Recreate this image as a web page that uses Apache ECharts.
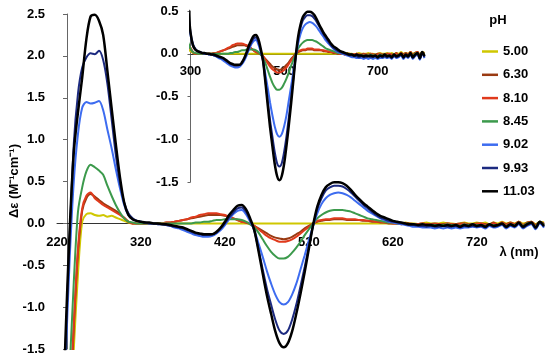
<!DOCTYPE html>
<html><head><meta charset="utf-8">
<script src="https://cdn.jsdelivr.net/npm/echarts@6/dist/echarts.min.js"></script>
<style>html,body{margin:0;padding:0;background:#fff}#c{width:550px;height:363px}</style>
</head><body><div id="c"></div>
<script>
// Wavelength grid (nm)
const wavelengths = [
225,230,235,240,245,250,255,260,265,270,
275,280,285,290,295,300,305,310,315,320,
325,330,335,340,345,350,355,360,365,370,
375,380,385,390,395,400,405,410,415,420,
425,430,435,440,445,450,455,460,465,470,
475,480,485,490,495,500,505,510,515,520,
525,530,535,540,545,550,555,560,565,570,
575,580,585,590,595,600,605,610,615,620,
625,630,635,640,645,650,655,660,665,670,
675,680,685,690,695,700,705,710,715,720,
725,730,735,740,745,750,755,760,765,770,
775,780,785,790,795,800];

const phLabels = ['5.00','6.30','8.10','8.45','9.02','9.93','11.03'];
const mainXTicks = [220,320,420,520,620,720];
const insetXTicks = [300,500,700];

// Δε values for each pH
const ph500 = [
-4.0,-3.3,-2.4,-1.5,-0.6,0.02,0.11,0.12,0.10,0.09,
0.10,0.08,0.09,0.07,0.05,0.03,0.01,0.00,0.00,0.00,
0,0,0,0,0,0,0,0,0,0,
0,0,0,0,0,0,0,0,0,0,
0,0,0,0,0,0,0,0,0,0,
0,0,0,0,0,0,0,0,0,0,
0,0,0,0,0,0,0,0,0,0,
0,0,0,0,0,0,0,0,0,0,
0.00,0.00,0.01,0.00,0.00,-0.01,0.00,0.01,0.00,0.00,
0.00,0.01,0.00,0.00,-0.01,0.00,0.01,0.00,0.00,0.01,
0.00,0.01,-0.01,0.01,0.00,0.02,0.00,0.01,0.00,0.02,
0.00,0.01,0.02,-0.01,0.02,0.01];

const ph630 = [
-4.0,-3.2,-2.3,-1.25,-0.35,0.15,0.30,0.35,0.32,0.28,
0.24,0.21,0.18,0.15,0.11,0.06,0.02,0.00,0.00,0.00,
0.00,0.00,0.00,0.00,0.00,0.01,0.01,0.02,0.03,0.04,
0.05,0.06,0.07,0.08,0.09,0.10,0.10,0.10,0.10,0.09,
0.08,0.06,0.04,0.02,0.01,-0.01,-0.03,-0.06,-0.09,-0.12,
-0.15,-0.17,-0.18,-0.19,-0.18,-0.16,-0.13,-0.10,-0.06,-0.03,
0.00,0.02,0.03,0.04,0.04,0.05,0.05,0.05,0.04,0.04,
0.04,0.04,0.03,0.03,0.02,0.02,0.01,0.01,0.00,0.00,
0.00,-0.01,0.00,0.00,-0.01,-0.01,0.00,-0.01,-0.01,0.00,
-0.01,-0.01,0.00,-0.01,-0.01,0.00,0.00,-0.01,-0.01,0.00,
0.00,-0.01,-0.01,0.01,-0.02,0.01,-0.01,0.01,-0.01,0.02,
-0.02,0.01,0.02,-0.02,0.02,0.00];

const ph810 = [
-4.0,-3.2,-2.2,-1.2,-0.30,0.18,0.33,0.37,0.30,0.26,
0.22,0.19,0.16,0.13,0.10,0.07,0.02,0.00,0.00,0.00,
0.00,0.00,0.00,0.00,0.00,0.01,0.01,0.02,0.03,0.04,
0.05,0.07,0.08,0.10,0.11,0.12,0.12,0.12,0.11,0.10,
0.08,0.06,0.04,0.02,0.01,0.00,-0.03,-0.07,-0.11,-0.15,
-0.18,-0.20,-0.22,-0.22,-0.21,-0.19,-0.16,-0.12,-0.08,-0.04,
0.00,0.03,0.04,0.05,0.05,0.06,0.06,0.06,0.05,0.05,
0.05,0.04,0.04,0.03,0.03,0.02,0.02,0.01,0.01,0.00,
0.00,-0.01,0.00,-0.01,-0.01,-0.01,0.00,-0.01,-0.02,-0.01,
-0.01,-0.02,0.00,-0.01,-0.02,-0.01,0.00,-0.02,-0.01,-0.01,
0.00,-0.02,-0.01,0.00,-0.02,0.01,-0.02,0.00,-0.01,0.02,
-0.02,0.00,0.02,-0.03,0.01,-0.01];

const ph845 = [
-3.0,-2.6,-1.75,-0.70,0.14,0.43,0.62,0.70,0.67,0.63,
0.58,0.45,0.33,0.22,0.13,0.06,0.02,0.01,0.00,0.00,
0.00,0.00,0.00,0.00,0.00,0.00,0.00,0.00,0.00,0.00,
0.00,0.00,0.01,0.01,0.02,0.02,0.03,0.04,0.04,0.05,
0.05,0.05,0.05,0.04,0.02,-0.01,-0.05,-0.11,-0.19,-0.27,
-0.34,-0.39,-0.42,-0.42,-0.40,-0.35,-0.29,-0.22,-0.14,-0.07,
0.00,0.06,0.10,0.13,0.15,0.16,0.16,0.16,0.15,0.14,
0.12,0.10,0.08,0.06,0.05,0.04,0.03,0.02,0.01,0.01,
0.00,0.00,-0.01,-0.01,-0.01,-0.02,-0.01,-0.02,-0.02,-0.02,
-0.02,-0.02,-0.01,-0.02,-0.02,-0.03,-0.01,-0.02,-0.01,-0.02,
-0.02,-0.03,-0.01,-0.02,-0.02,0.00,-0.03,-0.01,-0.02,0.01,
-0.03,0.00,0.01,-0.04,0.02,-0.02];

const ph902 = [
-3.0,-1.7,-0.45,0.50,1.07,1.38,1.45,1.43,1.44,1.46,
1.35,1.12,0.90,0.65,0.42,0.22,0.10,0.05,0.03,0.02,
0.01,0.00,0.00,-0.01,-0.01,-0.02,-0.03,-0.05,-0.06,-0.08,
-0.10,-0.12,-0.14,-0.15,-0.16,-0.16,-0.15,-0.12,-0.08,-0.02,
0.05,0.11,0.15,0.16,0.11,0.02,-0.08,-0.24,-0.40,-0.57,
-0.72,-0.85,-0.94,-0.97,-0.94,-0.85,-0.72,-0.55,-0.38,-0.20,
-0.03,0.12,0.23,0.30,0.34,0.36,0.37,0.36,0.34,0.31,
0.27,0.23,0.19,0.15,0.12,0.09,0.06,0.04,0.02,0.01,
0.00,-0.01,-0.02,-0.03,-0.04,-0.04,-0.05,-0.05,-0.05,-0.06,
-0.05,-0.06,-0.05,-0.06,-0.05,-0.06,-0.05,-0.05,-0.04,-0.05,
-0.04,-0.06,-0.03,-0.05,-0.04,-0.02,-0.06,-0.03,-0.05,-0.01,
-0.06,-0.03,-0.01,-0.07,0.00,-0.05];

const ph993 = [
-3.0,-1.55,-0.20,0.95,1.55,1.86,1.98,2.03,2.02,2.06,
1.95,1.67,1.25,0.82,0.48,0.25,0.12,0.06,0.03,0.02,
0.01,0.00,0.00,-0.01,-0.01,-0.02,-0.03,-0.04,-0.05,-0.06,
-0.08,-0.10,-0.12,-0.13,-0.14,-0.14,-0.13,-0.11,-0.06,0.00,
0.07,0.13,0.18,0.19,0.14,0.04,-0.09,-0.31,-0.55,-0.78,
-0.97,-1.15,-1.28,-1.32,-1.28,-1.15,-0.97,-0.75,-0.52,-0.27,
-0.03,0.17,0.30,0.39,0.43,0.45,0.45,0.44,0.41,0.37,
0.32,0.27,0.22,0.18,0.14,0.10,0.07,0.05,0.03,0.02,
0.01,0.00,-0.01,-0.02,-0.02,-0.03,-0.03,-0.04,-0.03,-0.04,
-0.04,-0.03,-0.04,-0.04,-0.03,-0.05,-0.03,-0.04,-0.03,-0.04,
-0.03,-0.05,-0.02,-0.04,-0.03,-0.01,-0.05,-0.02,-0.04,0.00,
-0.05,-0.02,0.00,-0.06,0.01,-0.04];

const ph1103 = [
-3.0,-1.40,-0.10,0.85,1.33,1.74,2.20,2.47,2.49,2.42,
2.25,1.82,1.38,0.95,0.55,0.25,0.10,0.05,0.03,0.02,
0.01,0.01,0.00,0.00,-0.01,-0.01,-0.02,-0.03,-0.04,-0.05,
-0.07,-0.09,-0.11,-0.12,-0.13,-0.13,-0.13,-0.10,-0.05,0.02,
0.10,0.16,0.21,0.22,0.17,0.06,-0.08,-0.33,-0.60,-0.86,
-1.08,-1.29,-1.43,-1.48,-1.43,-1.29,-1.08,-0.84,-0.58,-0.30,
-0.02,0.20,0.34,0.43,0.47,0.49,0.49,0.48,0.45,0.40,
0.34,0.29,0.24,0.20,0.16,0.12,0.09,0.07,0.05,0.03,
0.02,0.01,0.00,-0.01,-0.01,-0.02,-0.01,-0.02,-0.02,-0.03,
-0.02,-0.03,-0.02,-0.03,-0.02,-0.04,-0.02,-0.03,-0.01,-0.03,
-0.02,-0.04,-0.01,-0.03,-0.02,0.00,-0.04,-0.01,-0.03,0.01,
-0.04,-0.01,0.01,-0.05,0.02,-0.03];

const allSeries = [ph500, ph630, ph810, ph845, ph902, ph993, ph1103];
const colors = ['#CFC700','#9A3A12','#E03A1C','#3C9A4C','#3D6CF0','#1C2A80','#000000'];
const FONT = '"Liberation Sans", Arial, sans-serif';

const series = [];
allSeries.forEach((arr, i) => {
  const pts = wavelengths.map((w, j) => [w, arr[j]]);
  const mk = (xi) => ({
    type: 'line', name: phLabels[i], data: pts,
    xAxisIndex: xi, yAxisIndex: xi,
    showSymbol: false, symbol: 'none', smooth: 0.3, clip: true,
    lineStyle: { color: colors[i], width: i === 6 ? 2.5 : 2 },
    itemStyle: { color: colors[i] },
    z: 2 + i, animation: false
  });
  series.push(mk(0));
  series.push(mk(1));
});

const labelStyle = { fontWeight: 'bold', fontSize: 13, color: '#000', fontFamily: FONT };
const chart = echarts.init(document.getElementById('c'), null, { renderer: 'canvas' });
chart.setOption({
  animation: false,
  backgroundColor: '#fff',
  grid: [
    { left: 57, right: 6, top: 14, bottom: 14, containLabel: false, outerBoundsMode: 'none' },
    { left: 190.5, width: 234, top: 11, height: 171, containLabel: false, outerBoundsMode: 'none' }
  ],
  xAxis: [
    { type: 'value', gridIndex: 0, min: mainXTicks[0], max: 800, interval: 100,
      position: 'bottom', offset: -126,
      axisLine: { onZero: false, lineStyle: { color: '#333', width: 1 } },
      axisTick: { show: false }, splitLine: { show: false },
      axisLabel: Object.assign({ margin: 13, showMaxLabel: false }, labelStyle) },
    { type: 'value', gridIndex: 1, min: insetXTicks[0], max: 800, interval: 200,
      position: 'bottom', offset: -128,
      axisLine: { onZero: false, lineStyle: { color: '#333', width: 1 } },
      axisTick: { show: false }, splitLine: { show: false },
      axisLabel: Object.assign({ margin: 11, showMaxLabel: false }, labelStyle) }
  ],
  yAxis: [
    { type: 'value', gridIndex: 0, min: -1.5, max: 2.5, interval: 0.5, offset: -10,
      axisLine: { show: true, onZero: false, lineStyle: { color: '#666', width: 1 } },
      axisTick: { show: true, length: 4, lineStyle: { color: '#666' } },
      splitLine: { show: false },
      axisLabel: Object.assign({ margin: 22, formatter: v => v.toFixed(1) }, labelStyle) },
    { type: 'value', gridIndex: 1, min: -1.5, max: 0.5, interval: 0.5,
      axisLine: { show: true, onZero: false, lineStyle: { color: '#666', width: 1 } },
      axisTick: { show: true, length: 3, lineStyle: { color: '#666' } },
      splitLine: { show: false },
      axisLabel: Object.assign({ margin: 12, formatter: v => v.toFixed(1) }, labelStyle) }
  ],
  legend: {
    data: phLabels, orient: 'vertical', left: 477, top: 40,
    icon: 'rect', itemWidth: 16, itemHeight: 2.5, itemGap: 10.3,
    textStyle: Object.assign({ lineHeight: 13 }, labelStyle),
    selectedMode: false
  },
  graphic: [
    { type: 'text', x: 498, y: 20, style: { text: 'pH', align: 'center', verticalAlign: 'middle', font: 'bold 13px "Liberation Sans", Arial, sans-serif', fill: '#000' } },
    { type: 'text', x: 519, y: 252, style: { text: 'λ (nm)', align: 'center', verticalAlign: 'middle', font: 'bold 13px "Liberation Sans", Arial, sans-serif', fill: '#000' } },
    { type: 'text', x: 14, y: 181, rotation: Math.PI / 2, style: { text: 'Δε (M⁻¹cm⁻¹)', align: 'center', verticalAlign: 'middle', font: 'bold 13px "Liberation Sans", Arial, sans-serif', fill: '#000' } }
  ],
  series: series
});
</script></body></html>
